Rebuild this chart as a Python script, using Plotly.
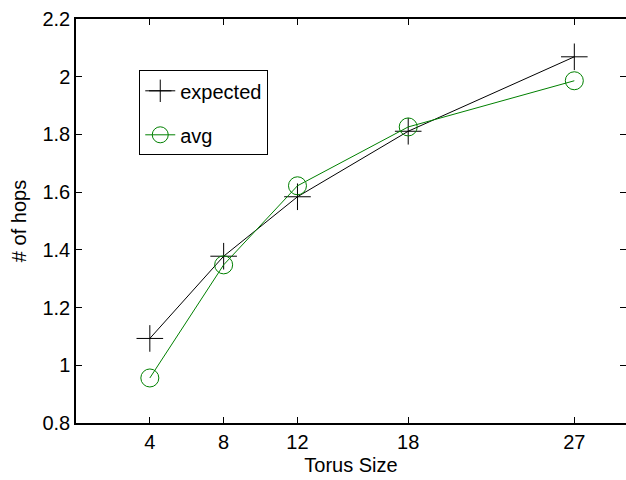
import plotly.graph_objects as go

torus_size = [4, 8, 12, 18, 27]
expected = [1.093, 1.378, 1.584, 1.811, 2.069]
avg = [0.956, 1.348, 1.622, 1.826, 1.986]
x_ticks = [4, 8, 12, 18, 27]
y_ticks = [0.8, 1.0, 1.2, 1.4, 1.6, 1.8, 2.0, 2.2]

FONT = "Liberation Sans, Arial, sans-serif"
FS = 20

fig = go.Figure()
fig.add_trace(go.Scatter(
    x=torus_size, y=expected, name="expected", mode="lines+markers",
    line=dict(color="black", width=1),
    marker=dict(symbol="cross-thin-open", size=19, color="black",
                line=dict(color="black", width=1)),
    legendgroup="a"))
fig.add_trace(go.Scatter(
    x=torus_size, y=avg, name="avg", mode="lines+markers",
    line=dict(color="#008000", width=1),
    marker=dict(symbol="circle-open", size=18, color="#008000",
                line=dict(color="#008000", width=1)),
    legendgroup="b"))
# invisible trace on right axis for mirrored ticks without a line
fig.add_trace(go.Scatter(x=[None], y=[None], yaxis="y2", showlegend=False))

fig.update_layout(
    width=626, height=480,
    margin=dict(l=76, r=0, t=19, b=57),
    paper_bgcolor="white", plot_bgcolor="white",
    font=dict(family=FONT, size=FS, color="black"),
    xaxis=dict(range=[0, 29.8], tickvals=x_ticks, ticks="inside", ticklen=6,
               tickcolor="black", showline=True, linecolor="black", linewidth=1.5,
               mirror="ticks", showgrid=False, zeroline=False,
               tickfont=dict(size=FS),
               title=dict(text="Torus Size", font=dict(size=FS), standoff=6)),
    yaxis=dict(range=[0.8, 2.2], tickvals=y_ticks, ticks="inside", ticklen=6,
               tickcolor="black", showline=True, linecolor="black", linewidth=1.5,
               showgrid=False, zeroline=False,
               tickfont=dict(size=FS),
               title=dict(text="# of hops", font=dict(size=FS), standoff=10)),
    yaxis2=dict(range=[0.8, 2.2], tickvals=y_ticks, ticks="inside", ticklen=6,
                tickcolor="black", overlaying="y", side="right", showline=False,
                showticklabels=False, showgrid=False, zeroline=False),
    showlegend=True,
    legend=dict(x=0.115, y=0.873, xanchor="left", yanchor="top",
                bordercolor="black", borderwidth=1, bgcolor="white",
                font=dict(size=FS), traceorder="grouped", tracegroupgap=15,
                itemwidth=30, entrywidth=140, entrywidthmode="pixels"),
)

fig.write_html("out.html")
